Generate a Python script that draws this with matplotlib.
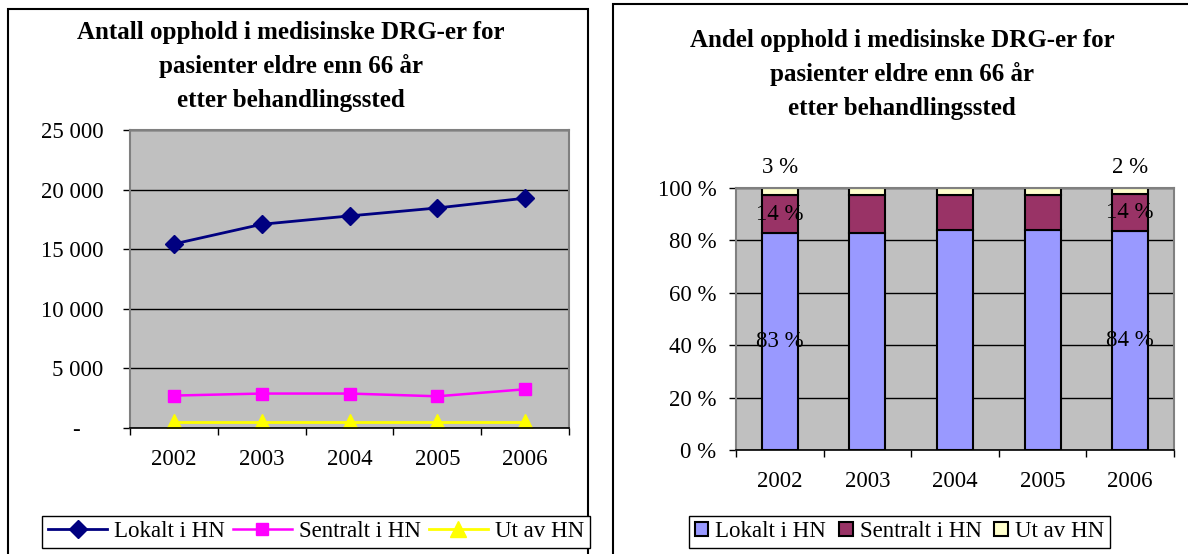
import matplotlib.pyplot as plt
from matplotlib.patches import Rectangle
from matplotlib.ticker import FixedLocator

plt.rcParams['font.family'] = ['Liberation Serif', 'DejaVu Serif']

years = ['2002', '2003', '2004', '2005', '2006']

# antall opphold (left chart)
lokalt = [15440, 17090, 17790, 18460, 19280]
sentralt = [2720, 2890, 2890, 2660, 3250]
ut_av = [480, 480, 480, 480, 480]

# andel i prosent (right chart)
andel_lokalt = [82.8, 82.8, 84.1, 84.1, 83.6]
andel_sentralt = [14.4, 14.4, 13.2, 13.2, 14.1]
andel_ut = [2.8, 2.8, 2.7, 2.7, 2.3]
label_idx = [0, 4]

series_names = ['Lokalt i HN', 'Sentralt i HN', 'Ut av HN']

W, H = 1188, 554
fig = plt.figure(figsize=(W / 100, H / 100), dpi=100)
fig.patch.set_facecolor('white')


def px_rect(x0, y0, x1, y1):
    # pixel box (top-left origin) -> figure fraction
    return [x0 / W, 1 - y1 / H, (x1 - x0) / W, (y1 - y0) / H]


# panel frames
fig.add_artist(Rectangle((8 / W, -0.05), (588 - 8) / W, 1.05 - 9 / H,
                         transform=fig.transFigure, fill=False, lw=1.5, ec='black'))
fig.add_artist(Rectangle((613 / W, -0.05), 0.5, 1.05 - 4 / H,
                         transform=fig.transFigure, fill=False, lw=1.5, ec='black'))

fs = 16.5


def style_axes(ax):
    ax.set_facecolor('#C0C0C0')
    ax.grid(axis='y', color='black', lw=1)
    ax.set_axisbelow(True)
    for s in ['top', 'right', 'left']:
        ax.spines[s].set_color('#808080')
        ax.spines[s].set_linewidth(1.5)
    ax.spines['bottom'].set_color('black')
    ax.spines['bottom'].set_linewidth(1.2)
    ax.set_xlim(-0.5, 4.5)
    ax.set_xticks(range(5))
    ax.set_xticklabels(years, fontsize=fs)
    ax.xaxis.set_minor_locator(FixedLocator([i - 0.5 for i in range(6)]))
    ax.tick_params(axis='x', which='major', length=0, pad=15)
    ax.tick_params(axis='x', which='minor', length=5, width=1)
    ax.tick_params(axis='y', length=5, width=1, labelsize=fs)


# ---- left: line chart
ax1 = fig.add_axes(px_rect(130, 130, 569, 428))
style_axes(ax1)
x = range(len(years))
ax1.plot(x, lokalt, color='#000080', lw=2, marker='D', ms=9, label=series_names[0])
ax1.plot(x, sentralt, color='#FF00FF', lw=1.8, marker='s', ms=9, label=series_names[1])
ax1.plot(x, ut_av, color='#FFFF00', lw=2, marker='^', ms=11, label=series_names[2])
ax1.set_ylim(0, 25000)
ax1.set_yticks(range(0, 25001, 5000))
ax1.set_yticklabels(['-    ', '5 000', '10 000', '15 000', '20 000', '25 000'])
ax1.tick_params(axis='y', pad=14)

title1 = ['Antall opphold i medisinske DRG-er for', 'pasienter eldre enn 66 år',
          'etter behandlingssted']
for i, t in enumerate(title1):
    fig.text(291 / W, 1 - (32 + 34 * i) / H, t, ha='center', va='center',
             fontsize=18, fontweight='bold')

fig.legend(handles=ax1.get_lines(), labels=series_names,
           bbox_to_anchor=px_rect(42, 506, 590, 548), loc='lower left', mode='expand',
           ncol=3, fontsize=fs, frameon=True, fancybox=False, edgecolor='black',
           framealpha=1, borderaxespad=0, handlelength=2.6, handletextpad=0.3,
           borderpad=0.25)

# ---- right: stacked bars (percent)
ax2 = fig.add_axes(px_rect(736, 188, 1174, 450))
style_axes(ax2)
bw = 0.41
b1 = ax2.bar(x, andel_lokalt, bw, color='#9999FF', ec='black', lw=1.5, label=series_names[0])
bottom2 = andel_lokalt
b2 = ax2.bar(x, andel_sentralt, bw, bottom=bottom2, color='#993366', ec='black', lw=1.5,
             label=series_names[1])
bottom3 = [a + b for a, b in zip(andel_lokalt, andel_sentralt)]
b3 = ax2.bar(x, andel_ut, bw, bottom=bottom3, color='#FFFFCC', ec='black', lw=1.5,
             label=series_names[2])
ax2.set_ylim(0, 100)
ax2.set_yticks(range(0, 101, 20))
ax2.set_yticklabels([f'{v} %' for v in range(0, 101, 20)])
ax2.tick_params(axis='y', pad=9)

for i in label_idx:
    ax2.text(i, andel_lokalt[i] / 2, f'{round(andel_lokalt[i])} %', ha='center',
             va='center', fontsize=fs)
    ax2.text(i, bottom2[i] + andel_sentralt[i] / 2, f'{round(andel_sentralt[i])} %',
             ha='center', va='center', fontsize=fs)
    ax2.annotate(f'{round(andel_ut[i])} %', (i, bottom3[i] + andel_ut[i] / 2),
                 xytext=(0, 24), textcoords='offset pixels', ha='center',
                 va='center', fontsize=fs, annotation_clip=False)

title2 = ['Andel opphold i medisinske DRG-er for', 'pasienter eldre enn 66 år',
          'etter behandlingssted']
for i, t in enumerate(title2):
    fig.text(902 / W, 1 - (40 + 34 * i) / H, t, ha='center', va='center',
             fontsize=18, fontweight='bold')

fig.legend(handles=[b1, b2, b3], labels=series_names,
           bbox_to_anchor=px_rect(689, 506, 1110, 548), loc='lower left', mode='expand',
           ncol=3, fontsize=fs, frameon=True, fancybox=False, edgecolor='black',
           framealpha=1, borderaxespad=0, handlelength=0.6, handleheight=0.6,
           handletextpad=0.3, borderpad=0.25)

fig.savefig('out.png', dpi=100)
